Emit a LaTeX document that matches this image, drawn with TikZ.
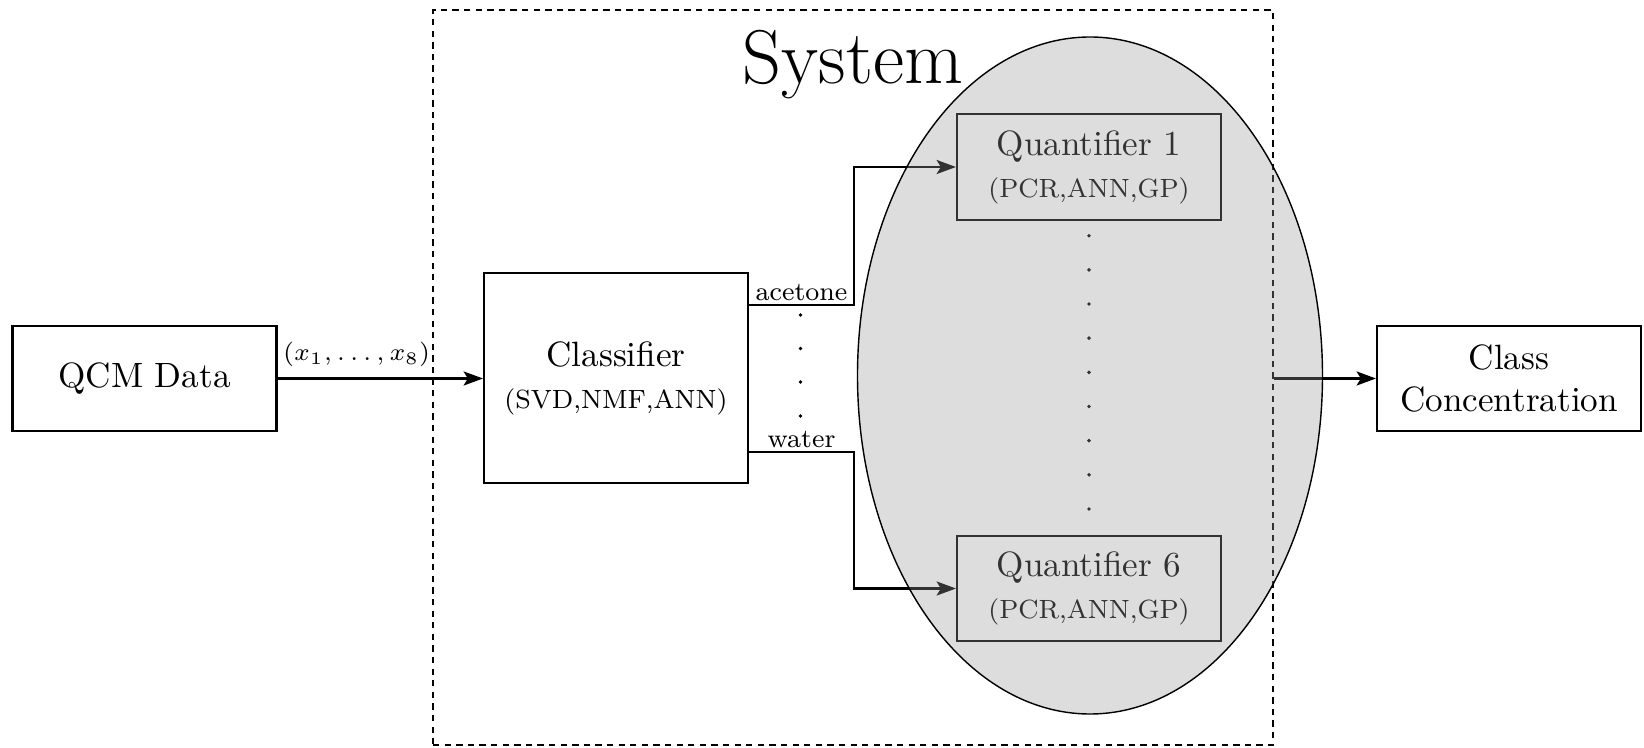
\documentclass[tikz,border=0pt]{standalone}
\usepackage{amsmath}
\usepackage{tikz}
\usetikzlibrary{arrows.meta,shapes.geometric}
\newcommand{\subfont}{\fontsize{7.5}{9}\selectfont}

\begin{document}
\begin{tikzpicture}[
		block/.style={draw, semithick, minimum width=2.64cm, align=center},
		arr/.style={semithick, -{Stealth[length=5.5pt,width=4pt,inset=1.2pt]}},
	]
		\useasboundingbox (0,0) rectangle (16.44,7.47);
		\node[draw, semithick, dash pattern=on 1.8pt off 1.5pt, minimum width=8.4cm, minimum height=7.35cm] (sys) at (8.53,3.695) {};
		\node[anchor=base, font=\fontsize{21.7}{26}\selectfont] (title) at ([yshift=-7.5mm]sys.north) {System};

		\node[block, minimum height=1.05cm] (qcm) at (1.445,3.685) {QCM Data};
		\node[block, minimum height=2.1cm] (cls) at (6.16,3.69) {Classifier\\{\subfont (SVD,NMF,ANN)}};
		\node[block, minimum height=1.06cm] (q1) at (10.89,5.80) {Quantifier 1\\{\subfont (PCR,ANN,GP)}};
		\node[block, minimum height=1.05cm] (q6) at (10.89,1.585) {Quantifier 6\\{\subfont (PCR,ANN,GP)}};
		\node[block, minimum height=1.05cm] (cc) at (15.09,3.685) {Class\\Concentration};

		\draw[arr] (qcm.east) -- (qcm.east -| cls.west) node[pos=0, above right, inner xsep=1.3pt, inner ysep=3pt, font=\fontsize{7}{8}\selectfont] {$(x_1,\ldots,x_8)$};
		\draw[arr] ([yshift=7.3mm]cls.east) -- node[above, inner sep=1pt, font=\subfont] {acetone} ++(1.05,0) |- (q1.west);
		\draw[arr] ([yshift=-7.4mm]cls.east) -- node[above, inner sep=1pt, font=\subfont] {water} ++(1.05,0) |- (q6.west);
		\draw[arr] (sys.east |- cc.west) -- (cc.west);

		\foreach \y in {4.32, 3.985, 3.65, 3.31}
			\fill (8.005,\y) circle (0.55pt);
		\foreach \i in {0,...,8}
			\fill (10.89,5.113-0.3416*\i) circle (0.55pt);

		\node[draw, ellipse, inner sep=0pt, fill=black!40, fill opacity=0.33, minimum width=4.65cm, minimum height=6.77cm] (group) at (10.90,3.715) {};
	\end{tikzpicture}
\end{document}
